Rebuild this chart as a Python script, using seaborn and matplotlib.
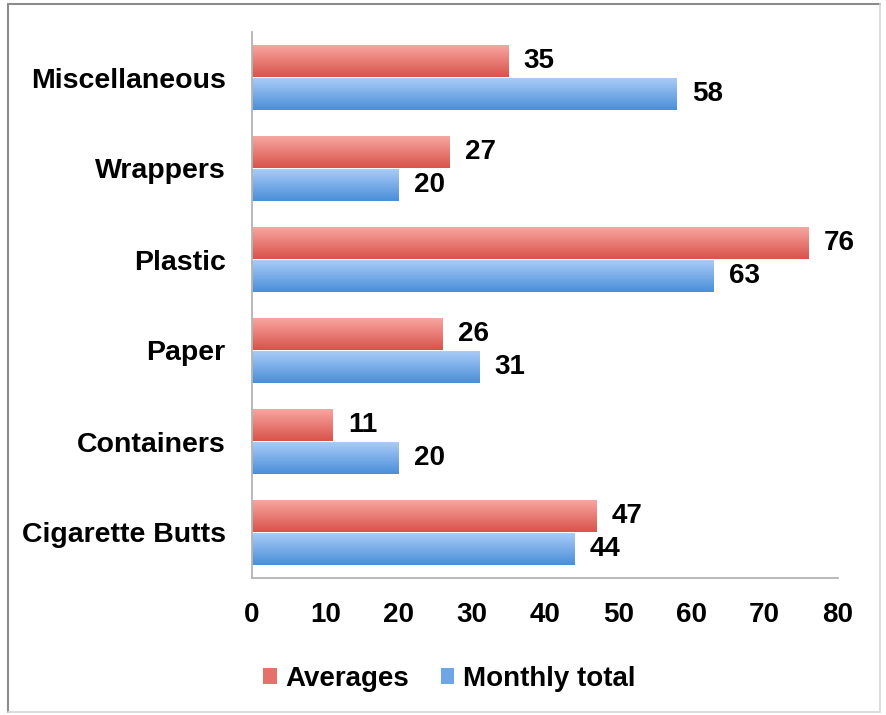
import numpy as np
import pandas as pd
import matplotlib
matplotlib.use('Agg')
import matplotlib.pyplot as plt
import matplotlib.colors as mcolors
from matplotlib.patches import Patch
from matplotlib.lines import Line2D
import seaborn as sns

categories = ['Miscellaneous', 'Wrappers', 'Plastic', 'Paper', 'Containers', 'Cigarette Butts']
averages = [35, 27, 76, 26, 11, 47]
monthly_total = [58, 20, 63, 31, 20, 44]
series = ['Averages', 'Monthly total']
x_ticks = [0, 10, 20, 30, 40, 50, 60, 70, 80]

df = pd.DataFrame({
    'category': categories * 2,
    'value': averages + monthly_total,
    'series': [series[0]] * len(categories) + [series[1]] * len(categories),
})

# gradient ends (top, bottom) for each series
grad = {
    'Averages': ('#f8a8a2', '#d9534b'),
    'Monthly total': ('#abcdf8', '#4a8fd9'),
}

sns.set_style('white')
plt.rcParams['font.family'] = ['Liberation Sans', 'DejaVu Sans']
plt.rcParams['text.color'] = 'black'
plt.rcParams['xtick.color'] = 'black'
plt.rcParams['ytick.color'] = 'black'

fig = plt.figure(figsize=(8.87, 7.15), dpi=100)
ax = fig.add_axes([252/887, 1-578/715, (838-252)/887, (578-32)/715])

sns.barplot(data=df, y='category', x='value', hue='series', orient='h',
            palette=[grad[s][1] for s in series], width=0.725,
            saturation=1, legend=False, ax=ax)

xlim = (0, 80)
ylim = ax.get_ylim()

# paint a vertical gradient into each bar
for cont, s in zip(ax.containers, series):
    cmap = mcolors.LinearSegmentedColormap.from_list(s, list(grad[s]))
    g = np.linspace(0, 1, 64).reshape(-1, 1)
    for p in cont.patches:
        x0, y0, w, h = p.get_x(), p.get_y(), p.get_width(), p.get_height()
        im = ax.imshow(g, cmap=cmap, aspect='auto', origin='upper',
                       extent=(x0, x0 + w, y0 + h, y0), zorder=2)
        im.set_clip_path(p)
        p.set_facecolor('none')
        p.set_edgecolor('none')
    ax.bar_label(cont, padding=11, fontsize=20, fontweight='bold', color='black')

ax.set_xlim(*xlim)
ax.set_ylim(*ylim)
ax.set_xticks(x_ticks)
ax.set_xlabel('')
ax.set_ylabel('')
ax.tick_params(axis='x', length=0, pad=17, labelsize=20, labelcolor='black')
ax.tick_params(axis='y', length=0, pad=19, labelsize=20.5, labelcolor='black')
for lab in ax.get_xticklabels() + ax.get_yticklabels():
    lab.set_fontweight('bold')

sns.despine(ax=ax)
for sp in ['left', 'bottom']:
    ax.spines[sp].set_color('#b4b4b4')
    ax.spines[sp].set_linewidth(1.3)

handles = [Patch(facecolor='#e5716a', edgecolor='none'),
           Patch(facecolor='#6ea5e6', edgecolor='none')]
fig.legend(handles, series, loc='center', bbox_to_anchor=(449/887, 1-679/715),
           ncol=2, frameon=False, prop={'size': 20, 'weight': 'bold'},
           handlelength=0.5, handleheight=0.5, handletextpad=0.3, columnspacing=1.15)

# frame around the picture
W, H = 887, 715
fig.add_artist(Line2D([8/W, 880/W], [1-4/H, 1-4/H], color='#8c8c8c', lw=1.5))
fig.add_artist(Line2D([8/W, 8/W], [1-4/H, 1-712/H], color='#8c8c8c', lw=1.5))
fig.add_artist(Line2D([880/W, 880/W], [1-4/H, 1-712/H], color='#d6d6d6', lw=1.2))
fig.add_artist(Line2D([8/W, 880/W], [1-712/H, 1-712/H], color='#d6d6d6', lw=1.2))

fig.savefig('out.png', dpi=100)
